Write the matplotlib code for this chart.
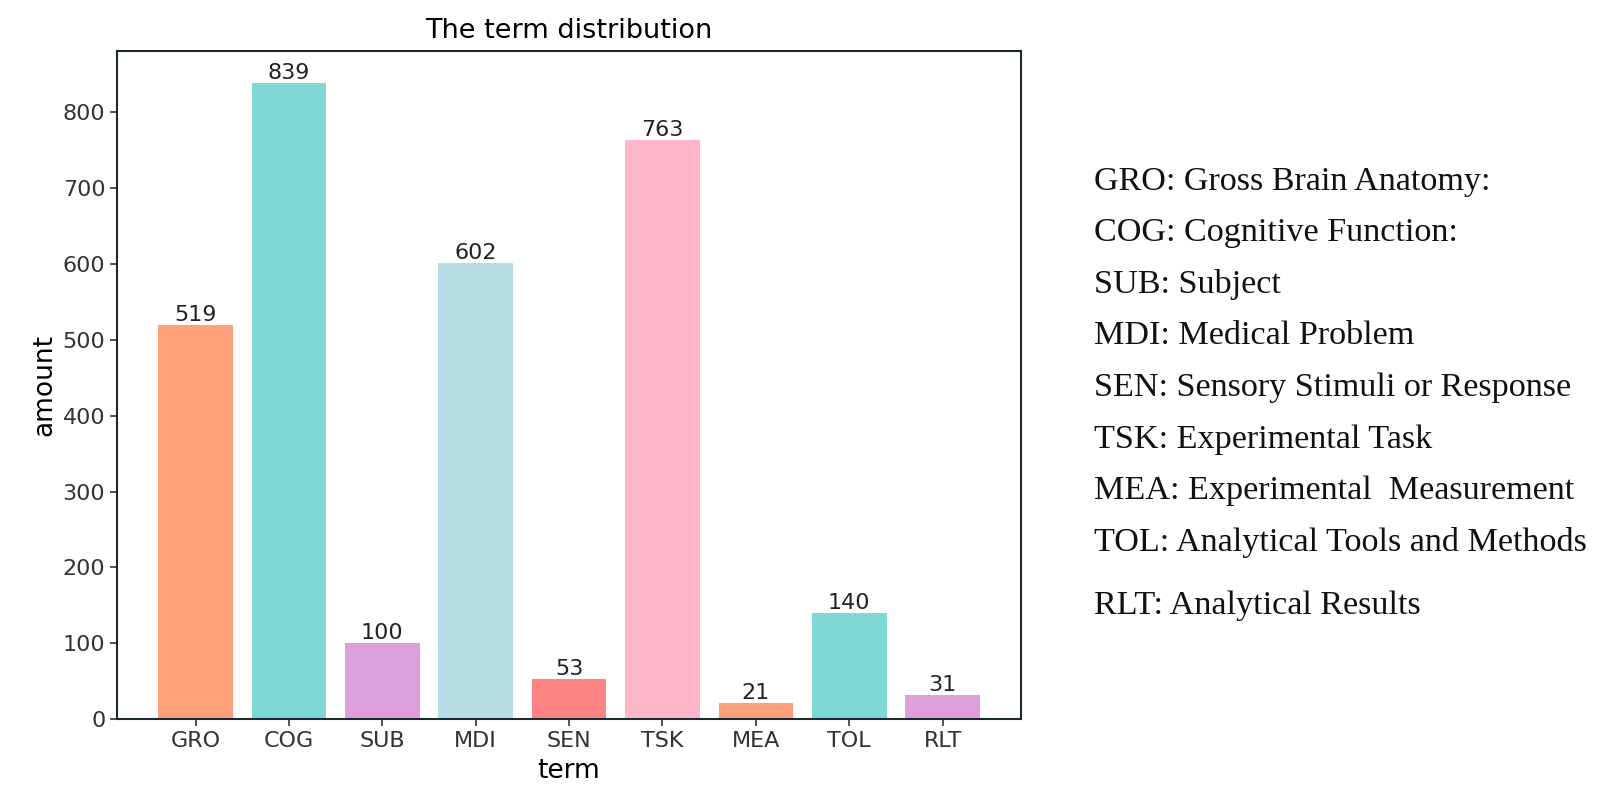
import matplotlib
matplotlib.use("Agg")
import matplotlib.pyplot as plt

terms = ["GRO", "COG", "SUB", "MDI", "SEN", "TSK", "MEA", "TOL", "RLT"]
amounts = [519, 839, 100, 602, 53, 763, 21, 140, 31]
bar_colors = ["#FFA07A", "#7FD8D3", "#DDA0DD", "#B7DDE6", "#FF8585", "#FFB6C8",
              "#FFA07A", "#7FD8D3", "#DDA0DD"]
descriptions = [
    "GRO: Gross Brain Anatomy:",
    "COG: Cognitive Function:",
    "SUB: Subject",
    "MDI: Medical Problem",
    "SEN: Sensory Stimuli or Response",
    "TSK: Experimental Task",
    "MEA: Experimental  Measurement",
    "TOL: Analytical Tools and Methods",
    "RLT: Analytical Results",
]

fig = plt.figure(figsize=(16.06, 7.98), dpi=100)
ax = fig.add_axes([0.0729, 0.0990, 0.5629, 0.8371])

x = range(len(terms))
bars = ax.bar(x, amounts, width=0.8, color=bar_colors)
for b, v in zip(bars, amounts):
    ax.text(b.get_x() + b.get_width() / 2, v, str(v), ha="center", va="bottom",
            fontsize=16, color="#222222")

ax.set_xticks(list(x))
ax.set_xticklabels(terms)
ax.tick_params(labelsize=16, length=5, width=1.2, colors="#333333")
ax.set_xlabel("term", fontsize=19, labelpad=5)
ax.set_ylabel("amount", fontsize=19)
ax.set_title("The term distribution", fontsize=19.5, pad=9)
for s in ax.spines.values():
    s.set_linewidth(1.5)
    s.set_color("#1a2a30")

# right-hand key, line by line (last line sits a bit lower)
y0 = 1 - 190 / 798
step = 51.5 / 798
for i, d in enumerate(descriptions):
    y = y0 - i * step - (12 / 798 if i == len(descriptions) - 1 else 0)
    fig.text(1094 / 1606, y, d, fontsize=24.6, family="Liberation Serif",
             ha="left", va="baseline", color="#111111")

fig.savefig("out.png", dpi=100)
